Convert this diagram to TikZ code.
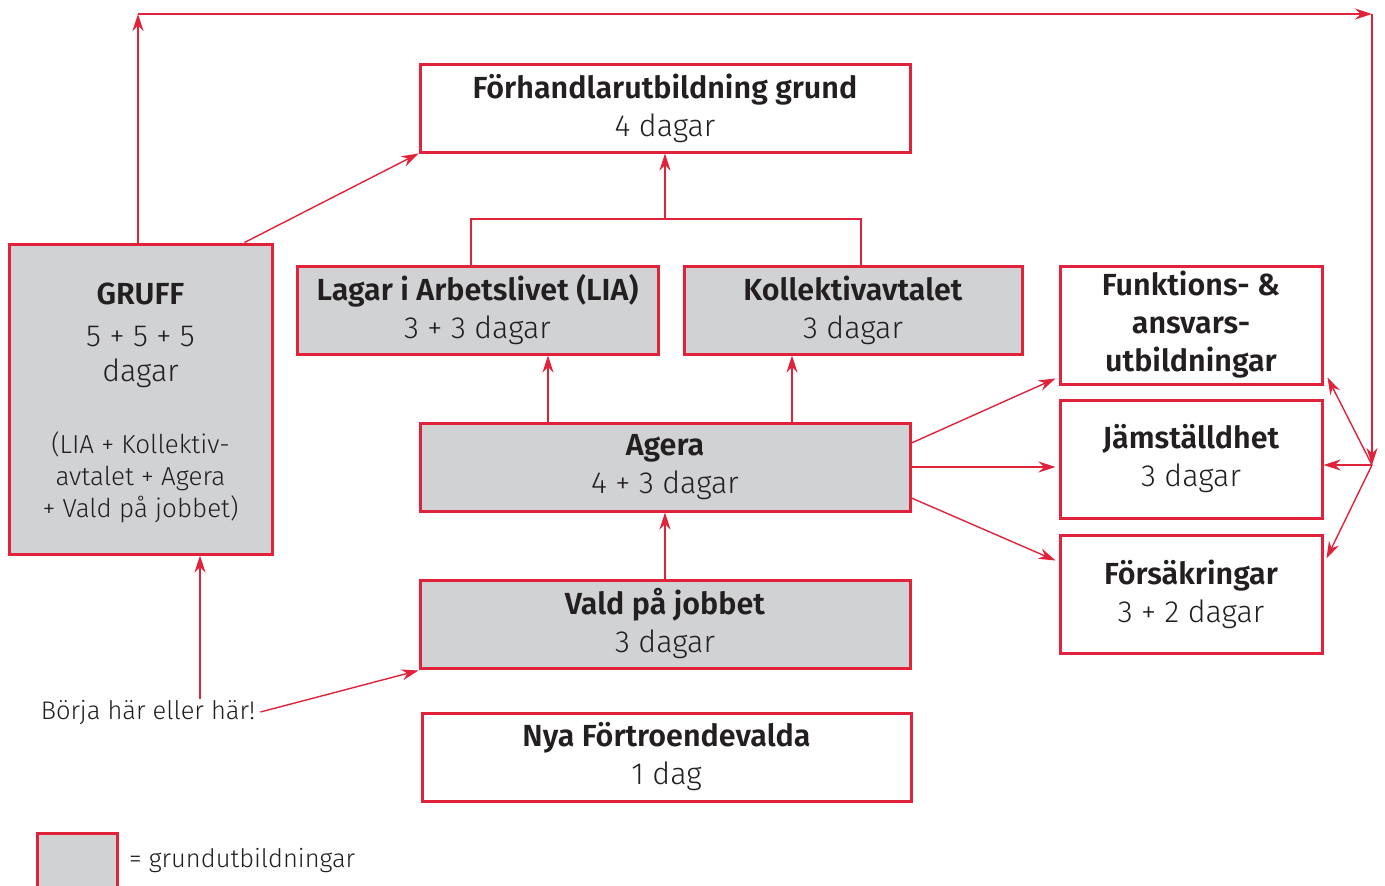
\documentclass[tikz,border=0pt]{standalone}
\usepackage{fontspec}
\setmainfont{Fira Sans}[UprightFont={* Light}]
\usetikzlibrary{arrows.meta}
\definecolor{myred}{HTML}{E0223A}
\definecolor{mygray}{HTML}{D1D2D4}
\definecolor{txt}{HTML}{231F20}
\newcommand\smf{\fontsize{26}{32}\selectfont}
\begin{document}
\begin{tikzpicture}[x=1pt,y=-1pt,
 box/.style={draw=myred,line width=3pt,text=txt,align=center,inner sep=0pt,font=\fontsize{30.5}{38}\selectfont},
 basic/.style={box,fill=mygray},
 conn/.style={draw=myred,line width=1.4pt},
 arr/.style={conn,-{Stealth[length=17pt,width=11pt]}},
 plain/.style={text=txt,inner sep=1pt,font=\fontsize{25.5}{32}\selectfont}]
\useasboundingbox (0,0) rectangle (1385,886);

\node[box,minimum width=490,minimum height=88] (fh) at (665,108) {\textbf{Förhandlarutbildning grund}\\4 dagar};
\node[basic,minimum width=263,minimum height=310] (gruff) at (140.5,399) {\textbf{GRUFF}\\[4pt]5 + 5 + 5\\[-3pt]dagar\\[34pt]\smf (LIA + Kollektiv-\\[-6pt]\smf avtalet + Agera\\[-6pt]\smf + Vald på jobbet)\\[-41pt]\mbox{}};
\node[basic,minimum width=361,minimum height=88] (lia) at (477.5,310) {\textbf{Lagar i Arbetslivet (LIA)}\\3 + 3 dagar};
\node[basic,minimum width=338,minimum height=88] (kol) at (853,310) {\textbf{Kollektivavtalet}\\3 dagar};
\node[box,minimum width=262,minimum height=118] (fun) at (1191,325) {\textbf{Funktions- \&}\\\textbf{ansvars-}\\\textbf{utbildningar}};
\node[box,minimum width=262,minimum height=118] (jam) at (1191,459) {\textbf{Jämställdhet}\\3 dagar};
\node[box,minimum width=262,minimum height=118] (fors) at (1191,594) {\textbf{Försäkringar}\\3 + 2 dagar};
\node[basic,minimum width=490,minimum height=88] (agera) at (665,467) {\textbf{Agera}\\4 + 3 dagar};
\node[basic,minimum width=490,minimum height=88] (vald) at (665,624) {\textbf{Vald på jobbet}\\3 dagar};
\node[box,minimum width=489,minimum height=88] (nya) at (666.5,757) {\textbf{Nya Förtroendevalda}\\1 dag};
\node[basic,minimum width=80,minimum height=58] (leg) at (77,862) {};
\node[plain,anchor=west] (legtxt) at (128,861) {= grundutbildningar};
\node[plain] (borja) at (148,712) {Börja här eller här!};

\coordinate (tl) at (138,14);
\coordinate (tr) at (1372,14);
\coordinate (hub) at (1372,465);
\coordinate (j) at (665,219);

\draw[arr] (tl |- gruff.north) -- (tl);
\draw[arr] (tl) -- (tr);
\draw[arr] (tr) -- (hub);
\draw[arr] (hub) -- ([shift={(4,-8)}]fun.south east);
\draw[arr] (hub) -- (hub -| jam.east);
\draw[arr] (hub) -- ([shift={(3,25)}]fors.north east);

\draw[arr] ([xshift=-29pt]gruff.north east) -- (fh.south west);
\draw[conn] ([xshift=-6.5pt]lia.north) |- (j) -| ([xshift=8pt]kol.north);
\draw[arr] (j) -- (fh.south);

\draw[arr] ([xshift=-117pt]agera.north) -- ([xshift=-117pt]agera.north |- lia.south);
\draw[arr] ([xshift=127pt]agera.north) -- ([xshift=127pt]agera.north |- kol.south);

\draw[arr] ([yshift=24pt]agera.east) -- ([shift={(-3,-7)}]fun.south west);
\draw[arr] (agera.east) -- ([xshift=-3pt]agera.east -| jam.west);
\draw[arr] ([yshift=-31pt]agera.east) -- ([shift={(-3,27)}]fors.north west);

\draw[arr] (vald.north) -- (agera.south);
\draw[arr] ([xshift=52pt]borja.north) -- ([xshift=52pt]borja.north |- gruff.south);
\draw[arr] ([xshift=4pt]borja.east) -- ([yshift=-1pt]vald.south west);
\end{tikzpicture}
\end{document}
